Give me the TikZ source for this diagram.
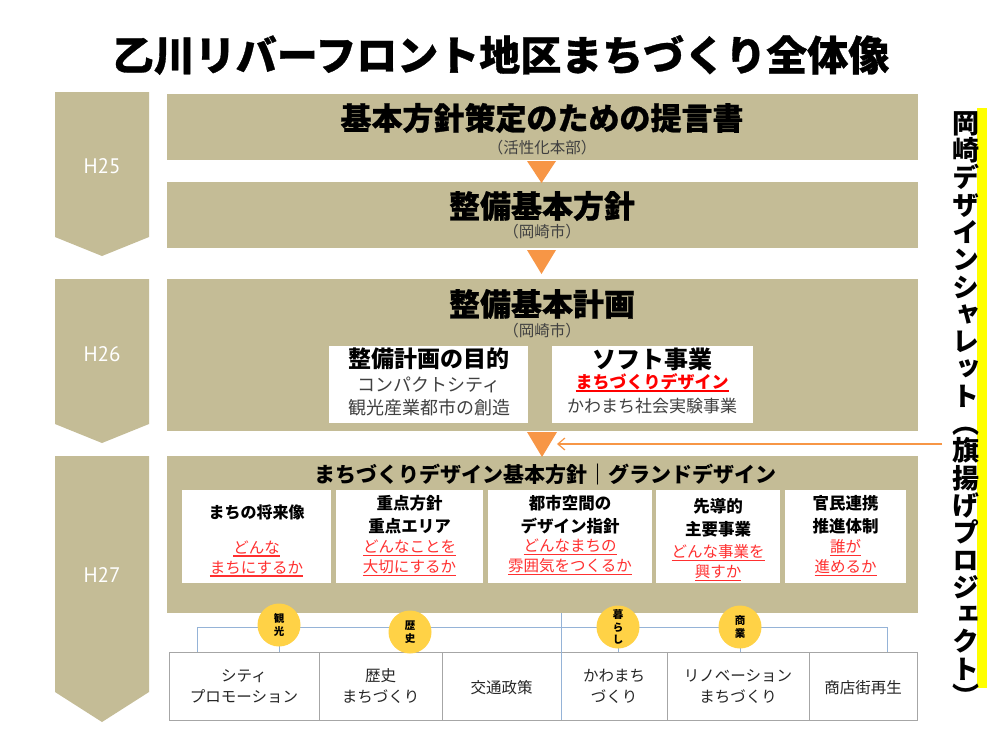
\documentclass[tikz,border=0pt]{standalone}
\usepackage{fontspec}
\setmainfont{Noto Sans CJK JP}
\newfontfamily\cjkvert{Noto Sans CJK JP}[RawFeature=+vert]
\newfontfamily\heavyfont{Noto Sans CJK JP}[BoldFeatures={FakeBold=0.8}]
\newfontfamily\ptsans{PT Sans}
\usetikzlibrary{arrows.meta}
\definecolor{boxtan}{HTML}{C4BC96}
\definecolor{arroworange}{HTML}{F79646}
\definecolor{circyellow}{HTML}{FFD246}
\definecolor{hiyellow}{HTML}{FFFF00}
\definecolor{lineblue}{HTML}{95B3D7}
\definecolor{boxgray}{HTML}{A6A6A6}
\definecolor{redtext}{HTML}{FF3030}
\definecolor{pureredtext}{HTML}{FF0000}
\definecolor{graytext}{HTML}{404040}
\definecolor{darktext}{HTML}{262626}
\newcommand\fsz[2]{\fontsize{#1}{#2}\selectfont}
\newsavebox\ulbox
\newcommand\myul[2][1.3pt]{\sbox\ulbox{#2}\rlap{\usebox\ulbox}\rule[-3.6pt]{\wd\ulbox}{#1}}
\tikzset{
  tanbox/.style={fill=boxtan, inner sep=0pt, anchor=north west},
  whitebox/.style={fill=white, inner sep=0pt, anchor=north west},
  botbox/.style={draw=boxgray, line width=1pt, fill=white, inner sep=0pt, anchor=north west, minimum height=68pt},
  yearlbl/.style={text=white, font=\ptsans\fsz{21}{21}},
  bigttl/.style={font=\heavyfont\bfseries\fsz{31}{31}, inner sep=0pt},
  subttl/.style={text=graytext, font=\fsz{15.5}{15.5}, inner sep=0pt},
  wttl/.style={font=\bfseries\fsz{23}{23}, inner sep=0pt},
  wline/.style={text=graytext, font=\fsz{18}{18}, inner sep=0pt},
  cardttl/.style={font=\bfseries\fsz{16.5}{23}, align=center, inner sep=0pt},
  cardred/.style={text=redtext, font=\fsz{15.5}{20}, align=center, inner sep=0pt},
  bottxt/.style={text=darktext, font=\fsz{15.5}{21}, align=center, inner sep=0pt},
  badge/.style={circle, fill=circyellow, minimum size=43pt, inner sep=0pt, align=center, font=\bfseries\fsz{10.5}{12.5}},
  treeline/.style={draw=lineblue, line width=1pt},
  orangetri/.style={fill=arroworange},
}
\begin{document}
\begin{tikzpicture}[x=1pt,y=-1pt]
\useasboundingbox (0,0) rectangle (1000,750);
\fill[white] (0,0) rectangle (1000,750);

% title
\node[font=\heavyfont\bfseries\fsz{41}{41}, inner sep=0pt] (title) at (501,55) {乙川リバーフロント地区まちづくり全体像};

% year chevrons
\fill[boxtan] (55,92) -- (149,92) -- (149,237) -- (102,256) -- (55,237) -- cycle;
\node[yearlbl] (h25) at (102,166) {H25};
\fill[boxtan] (55,279) -- (149,279) -- (149,424) -- (102,443) -- (55,424) -- cycle;
\node[yearlbl] (h26) at (102,354) {H26};
\fill[boxtan] (55,456) -- (149,456) -- (149,692) -- (102,722) -- (55,692) -- cycle;
\node[yearlbl] (h27) at (102,575) {H27};

% main tan boxes
\node[tanbox, minimum width=751pt, minimum height=66pt] (b1) at (167,94) {};
\node[tanbox, minimum width=751pt, minimum height=66pt] (b2) at (167,182) {};
\node[tanbox, minimum width=751pt, minimum height=152pt] (b3) at (167,279) {};
\node[tanbox, minimum width=751pt, minimum height=157pt] (b4) at (167,456) {};

% orange triangles
\fill[orangetri] (527,161) -- (556,161) -- (541.5,183) -- cycle;
\fill[orangetri] (527,250) -- (556,250) -- (541.5,274) -- cycle;
\fill[orangetri] (527,432) -- (557,432) -- (542,457) -- cycle;

% box texts
\node[bigttl] (t1) at (542,118) {基本方針策定のための提言書};
\node[subttl] (s1) at (542,148) {（活性化本部）};
\node[bigttl] (t2) at (542,206) {整備基本方針};
\node[subttl] (s2) at (542,232) {（岡崎市）};
\node[bigttl] (t3) at (542,304) {整備基本計画};
\node[subttl] (s3) at (542,331) {（岡崎市）};

% white boxes in b3
\node[whitebox, minimum width=199pt, minimum height=77pt] (w1) at (329,346) {};
\node[whitebox, minimum width=201pt, minimum height=77pt] (w2) at (552,346) {};
\node[wttl] (w1t) at (429,359) {整備計画の目的};
\node[wline] (w1a) at (429,385) {コンパクトシティ};
\node[wline] (w1b) at (429,408) {観光産業都市の創造};
\node[wttl, font=\bfseries\fsz{24}{24}] (w2t) at (652,359) {ソフト事業};
\node[inner sep=0pt, text=pureredtext, font=\bfseries\fsz{17}{17}] (w2a) at (652,383) {\myul[1.8pt]{まちづくりデザイン}};
\node[wline, font=\fsz{17}{17}] (w2b) at (652,406) {かわまち社会実験事業};

% b4 heading
\node[font=\bfseries\fsz{21}{21}, inner sep=0pt] (b4t) at (545,475) {まちづくりデザイン基本方針｜グランドデザイン};

% five cards
\node[whitebox, minimum width=149pt, minimum height=93pt] (ca) at (182,490) {};
\node[whitebox, minimum width=147pt, minimum height=93pt] (cb) at (336,490) {};
\node[whitebox, minimum width=164pt, minimum height=93pt] (cc) at (488,490) {};
\node[whitebox, minimum width=124pt, minimum height=93pt] (cd) at (656,490) {};
\node[whitebox, minimum width=121pt, minimum height=93pt] (ce) at (785,490) {};

\node[cardttl, font=\bfseries\fsz{16}{23}] (cat) at (256.5,512) {まちの将来像};
\node[cardred] (car) at (256.5,558.5) {\myul{どんな}\\\myul{まちにするか}};
\node[cardttl] (cbt) at (409.5,514.5) {重点方針\\重点エリア};
\node[cardred] (cbr) at (409.5,558) {\myul{どんなことを}\\\myul{大切にするか}};
\node[cardttl] (cct) at (570,515) {都市空間の\\デザイン指針};
\node[cardred] (ccr) at (570,557) {\myul{どんなまちの}\\\myul{雰囲気をつくるか}};
\node[cardttl] (cdt) at (718,518) {先導的\\主要事業};
\node[cardred] (cdr) at (718,563) {\myul{どんな事業を}\\\myul{興すか}};
\node[cardttl] (cet) at (845.5,515) {官民連携\\推進体制};
\node[cardred] (cer) at (845.5,557.5) {\myul{誰が}\\\myul{進めるか}};

% bottom boxes
\node[botbox, minimum width=150pt] (p1) at (169,652) {};
\node[botbox, minimum width=123pt] (p2) at (319,652) {};
\node[botbox, minimum width=119pt] (p3) at (442,652) {};
\node[botbox, minimum width=106pt] (p4) at (561,652) {};
\node[botbox, minimum width=142pt] (p5) at (667,652) {};
\node[botbox, minimum width=108pt] (p6) at (809,652) {};
\node[bottxt] (p1t) at (244,686.5) {シティ\\プロモーション};
\node[bottxt] (p2t) at (380.5,686.5) {歴史\\まちづくり};
\node[bottxt] (p3t) at (501.5,688) {交通政策};
\node[bottxt] (p4t) at (614,686.5) {かわまち\\づくり};
\node[bottxt] (p5t) at (738,686.5) {リノベーション\\まちづくり};
\node[bottxt] (p6t) at (863,688) {商店街再生};

% tree connectors
\coordinate (hl) at (197,627);
\coordinate (hr) at (887,627);
\coordinate (vtop) at (561,613);
\coordinate (vbot) at (561,720);
\draw[treeline] (197,652) -- (hl) -- (hr) -- (887,652);
\draw[treeline] (vtop) -- (vbot);
\coordinate (k1) at (279,625);
\coordinate (k2) at (410,632);
\coordinate (k3) at (618,627);
\coordinate (k4) at (740,627);
\draw[treeline] (k1) -- (k1 |- p1.north);
\draw[treeline] (k2) -- (k2 |- p2.north);
\draw[treeline] (k3) -- (k3 |- p4.north);
\draw[treeline] (k4) -- (k4 |- p5.north);
\node[badge] (c1) at (k1) {観\\光};
\node[badge] (c2) at (k2) {歴\\史};
\node[badge] (c3) at (k3) {暮\\ら\\し};
\node[badge] (c4) at (k4) {商\\業};

% right vertical text
\fill[hiyellow] (977,108) rectangle (987,688);
\node[font=\cjkvert\bfseries\fsz{27}{27.3}, align=center, inner sep=0pt] (vt) at (966,409) {岡\\崎\\デ\\ザ\\イ\\ン\\シ\\ャ\\レ\\ッ\\ト\\（\\旗\\揚\\げ\\プ\\ロ\\ジ\\ェ\\ク\\ト\\）};

% orange arrow into the third triangle
\coordinate (arrS) at (942,444);
\coordinate (arrE) at (557,444);
\draw[arroworange, line width=1.2pt, -{Straight Barb[length=7pt,width=12pt]}] (arrS) -- (arrE);
\end{tikzpicture}
\end{document}
